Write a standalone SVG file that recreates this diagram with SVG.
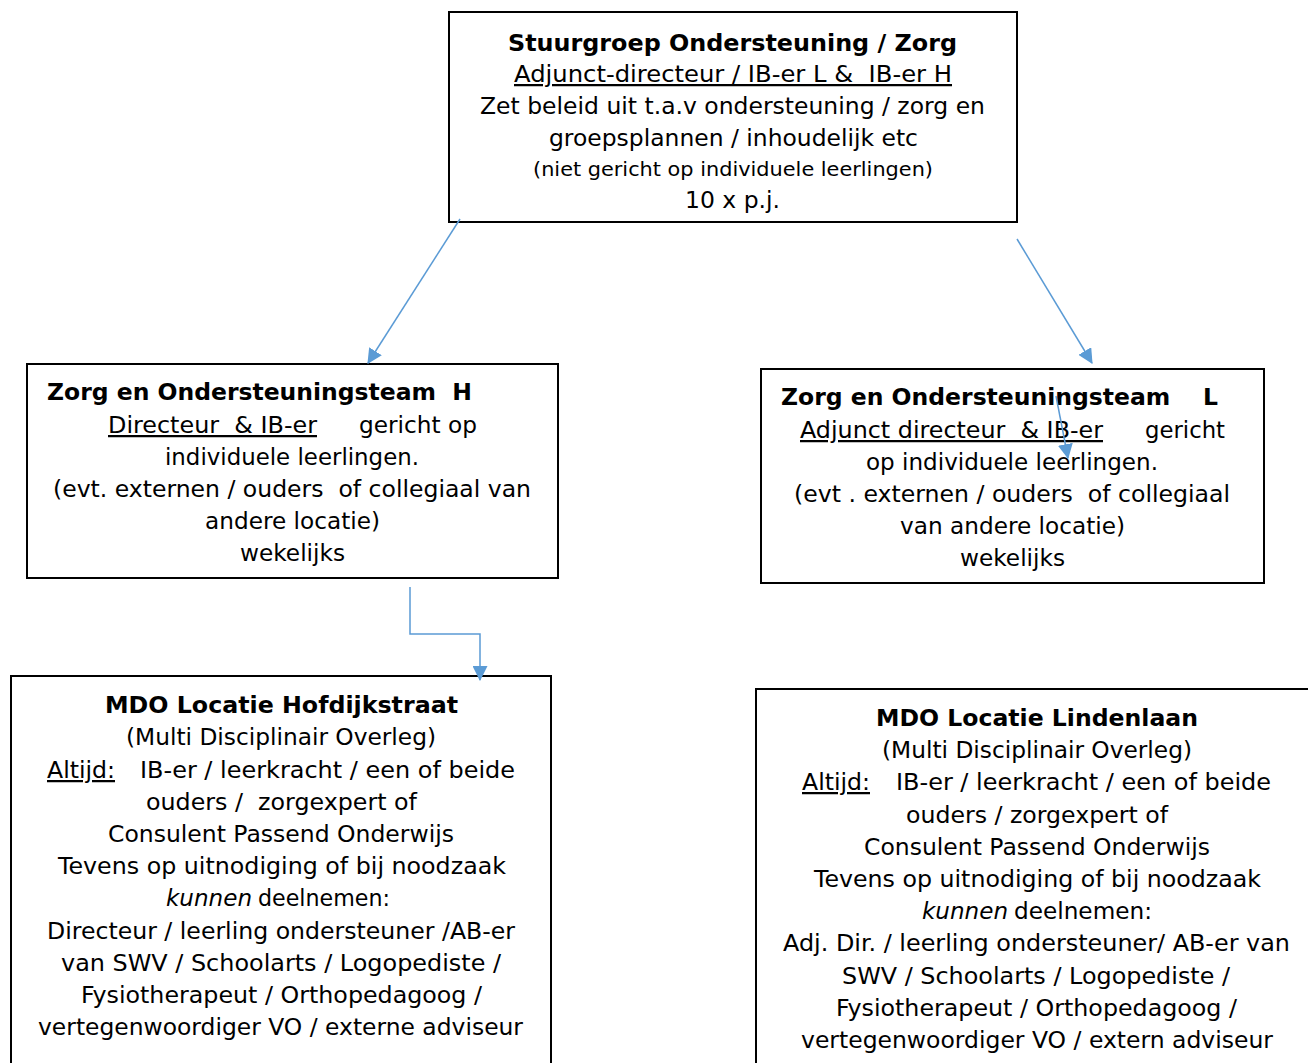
<svg xmlns="http://www.w3.org/2000/svg" width="1308" height="1063" viewBox="0 0 1308 1063">
<style>
.box{fill:#fff;stroke:#000;stroke-width:2}
.t{font-family:"DejaVu Sans",Verdana,sans-serif;font-size:22.5px;fill:#000}
.b{font-weight:bold}
.u{text-decoration:underline}
.i{font-style:italic}
.s{font-size:19.5px}
.c{fill:none;stroke:#5B9BD5;stroke-width:1.5}
</style>
<defs>
<marker id="ah" viewBox="0 0 14 14" refX="13" refY="7" markerWidth="15" markerHeight="15" markerUnits="userSpaceOnUse" orient="auto">
<path d="M0,0 L14,7 L0,14 Z" fill="#5B9BD5"/>
</marker>
</defs>
<rect width="1308" height="1063" fill="#fff"/>

<g id="stuurgroep">
<rect class="box" x="449" y="12" width="568" height="210"/>
<text class="t b" x="508" y="51" textLength="449" lengthAdjust="spacingAndGlyphs">Stuurgroep Ondersteuning / Zorg</text>
<text class="t u" x="514" y="82" textLength="438" lengthAdjust="spacingAndGlyphs" xml:space="preserve">Adjunct-directeur / IB-er L &amp;  IB-er H</text>
<text class="t" x="480" y="114" textLength="505" lengthAdjust="spacingAndGlyphs">Zet beleid uit t.a.v ondersteuning / zorg en</text>
<text class="t" x="549" y="146" textLength="369" lengthAdjust="spacingAndGlyphs">groepsplannen / inhoudelijk etc</text>
<text class="t s" x="533" y="176" textLength="400" lengthAdjust="spacingAndGlyphs">(niet gericht op individuele leerlingen)</text>
<text class="t" x="685" y="208" textLength="95" lengthAdjust="spacingAndGlyphs">10 x p.j.</text>
</g>

<g id="team-h">
<rect class="box" x="27" y="364" width="531" height="214"/>
<text class="t b" x="47" y="400" textLength="425" lengthAdjust="spacingAndGlyphs" xml:space="preserve">Zorg en Ondersteuningsteam  H</text>
<text class="t u" x="108" y="433" textLength="209" lengthAdjust="spacingAndGlyphs" xml:space="preserve">Directeur  &amp; IB-er</text>
<text class="t" x="359" y="433" textLength="118" lengthAdjust="spacingAndGlyphs">gericht op</text>
<text class="t" x="165" y="465" textLength="254" lengthAdjust="spacingAndGlyphs">individuele leerlingen.</text>
<text class="t" x="53" y="497" textLength="478" lengthAdjust="spacingAndGlyphs" xml:space="preserve">(evt. externen / ouders  of collegiaal van</text>
<text class="t" x="205" y="529" textLength="175" lengthAdjust="spacingAndGlyphs">andere locatie)</text>
<text class="t" x="240" y="561" textLength="105" lengthAdjust="spacingAndGlyphs">wekelijks</text>
</g>

<g id="team-l">
<rect class="box" x="761" y="369" width="503" height="214"/>
<text class="t b" x="781" y="405" textLength="437" lengthAdjust="spacingAndGlyphs" xml:space="preserve">Zorg en Ondersteuningsteam    L</text>
<text class="t u" x="800" y="438" textLength="303" lengthAdjust="spacingAndGlyphs" xml:space="preserve">Adjunct directeur  &amp; IB-er</text>
<text class="t" x="1145" y="438" textLength="80" lengthAdjust="spacingAndGlyphs">gericht</text>
<text class="t" x="866" y="470" textLength="292" lengthAdjust="spacingAndGlyphs">op individuele leerlingen.</text>
<text class="t" x="794" y="502" textLength="436" lengthAdjust="spacingAndGlyphs" xml:space="preserve">(evt . externen / ouders  of collegiaal</text>
<text class="t" x="900" y="534" textLength="225" lengthAdjust="spacingAndGlyphs">van andere locatie)</text>
<text class="t" x="960" y="566" textLength="105" lengthAdjust="spacingAndGlyphs">wekelijks</text>
</g>

<g id="mdo-hofdijkstraat">
<path class="box" d="M11,1064 V676 H551 V1064"/>
<text class="t b" x="105" y="713" textLength="353" lengthAdjust="spacingAndGlyphs">MDO Locatie Hofdijkstraat</text>
<text class="t" x="126" y="745" textLength="310" lengthAdjust="spacingAndGlyphs">(Multi Disciplinair Overleg)</text>
<text class="t u" x="47" y="778" textLength="68" lengthAdjust="spacingAndGlyphs">Altijd:</text>
<text class="t" x="140" y="778" textLength="375" lengthAdjust="spacingAndGlyphs">IB-er / leerkracht / een of beide</text>
<text class="t" x="146" y="810" textLength="271" lengthAdjust="spacingAndGlyphs" xml:space="preserve">ouders /  zorgexpert of</text>
<text class="t" x="108" y="842" textLength="346" lengthAdjust="spacingAndGlyphs">Consulent Passend Onderwijs</text>
<text class="t" x="58" y="874" textLength="448" lengthAdjust="spacingAndGlyphs">Tevens op uitnodiging of bij noodzaak</text>
<text class="t i" x="166" y="906" textLength="86" lengthAdjust="spacingAndGlyphs">kunnen</text>
<text class="t" x="258" y="906" textLength="132" lengthAdjust="spacingAndGlyphs">deelnemen:</text>
<text class="t" x="47" y="939" textLength="468" lengthAdjust="spacingAndGlyphs">Directeur / leerling ondersteuner /AB-er</text>
<text class="t" x="61" y="971" textLength="440" lengthAdjust="spacingAndGlyphs">van SWV / Schoolarts / Logopediste /</text>
<text class="t" x="81" y="1003" textLength="401" lengthAdjust="spacingAndGlyphs">Fysiotherapeut / Orthopedagoog /</text>
<text class="t" x="38" y="1035" textLength="485" lengthAdjust="spacingAndGlyphs">vertegenwoordiger VO / externe adviseur</text>
</g>

<g id="mdo-lindenlaan">
<path class="box" d="M756,1064 V689 H1309"/>
<text class="t b" x="876" y="726" textLength="322" lengthAdjust="spacingAndGlyphs">MDO Locatie Lindenlaan</text>
<text class="t" x="882" y="758" textLength="310" lengthAdjust="spacingAndGlyphs">(Multi Disciplinair Overleg)</text>
<text class="t u" x="802" y="790" textLength="68" lengthAdjust="spacingAndGlyphs">Altijd:</text>
<text class="t" x="896" y="790" textLength="375" lengthAdjust="spacingAndGlyphs">IB-er / leerkracht / een of beide</text>
<text class="t" x="906" y="823" textLength="262" lengthAdjust="spacingAndGlyphs">ouders / zorgexpert of</text>
<text class="t" x="864" y="855" textLength="346" lengthAdjust="spacingAndGlyphs">Consulent Passend Onderwijs</text>
<text class="t" x="814" y="887" textLength="447" lengthAdjust="spacingAndGlyphs">Tevens op uitnodiging of bij noodzaak</text>
<text class="t i" x="922" y="919" textLength="86" lengthAdjust="spacingAndGlyphs">kunnen</text>
<text class="t" x="1014" y="919" textLength="138" lengthAdjust="spacingAndGlyphs">deelnemen:</text>
<text class="t" x="783" y="951" textLength="507" lengthAdjust="spacingAndGlyphs">Adj. Dir. / leerling ondersteuner/ AB-er van</text>
<text class="t" x="842" y="984" textLength="388" lengthAdjust="spacingAndGlyphs">SWV / Schoolarts / Logopediste /</text>
<text class="t" x="836" y="1016" textLength="401" lengthAdjust="spacingAndGlyphs">Fysiotherapeut / Orthopedagoog /</text>
<text class="t" x="801" y="1048" textLength="472" lengthAdjust="spacingAndGlyphs">vertegenwoordiger VO / extern adviseur</text>
</g>

<g id="connectors">
<path class="c" d="M460,219 L368,363" marker-end="url(#ah)"/>
<path class="c" d="M1017,239 L1092,363" marker-end="url(#ah)"/>
<path class="c" d="M1056,396 L1068,458" marker-end="url(#ah)"/>
<path class="c" d="M410,587 V634 H480 V680" marker-end="url(#ah)"/>
</g>
</svg>
